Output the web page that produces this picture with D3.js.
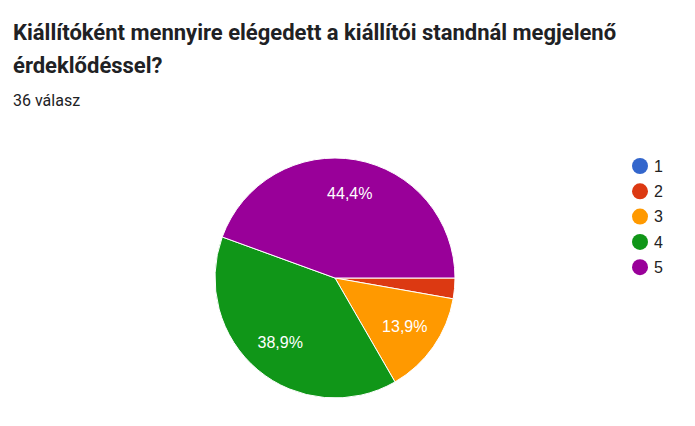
<!DOCTYPE html>
<html><head><meta charset="utf-8">
<script src="https://cdn.jsdelivr.net/npm/d3@7"></script>
<style>body{margin:0;background:#fff;}</style>
</head><body>
<svg id="c" width="695" height="426"></svg>
<script>
const categories = ["1","2","3","4","5"];
const counts = [0, 1, 5, 14, 16];
const colors = ["#3366cc","#dc3912","#ff9900","#109618","#990099"];
const titleLines = ["Kiállítóként mennyire elégedett a kiállítói standnál megjelenő","érdeklődéssel?"];
const subtitle = "36 válasz";

const svg = d3.select("#c");
svg.append("rect").attr("width",695).attr("height",426).attr("fill","#fff");
svg.selectAll("text.title").data(titleLines).join("text")
  .attr("x",13).attr("y",(d,i)=>40+i*33)
  .attr("font-family","Roboto").attr("font-weight","bold").attr("font-size",22)
  .attr("fill","#202124").text(d=>d);
svg.append("text").attr("x",13).attr("y",106).attr("font-family","Roboto")
  .attr("font-size",16).attr("fill","#202124").text(subtitle);

const data = categories.map((c,i)=>({cat:c,v:counts[i],color:colors[i]}));
const total = d3.sum(counts);
const cx=335, cy=278, r=120;
const pie = d3.pie().value(d=>d.v).sort(null).startAngle(Math.PI/2).endAngle(Math.PI/2+2*Math.PI);
const arcs = pie(data).filter(a=>a.data.v>0);
const arc = d3.arc().innerRadius(0).outerRadius(r);
const g = svg.append("g").attr("transform",`translate(${cx},${cy})`);
g.selectAll("path").data(arcs).join("path").attr("d",arc)
  .attr("fill",d=>d.data.color).attr("stroke","#fff").attr("stroke-width",1);
const labelArc = d3.arc().innerRadius(r*0.71).outerRadius(r*0.71);
const fmt = v => (Math.round(v/total*1000)/10).toFixed(1).replace(".",",")+"%";
g.selectAll("text").data(arcs.filter(a=>a.data.v/total>0.05)).join("text")
  .attr("transform",d=>`translate(${labelArc.centroid(d)})`)
  .attr("text-anchor","middle").attr("dy","0.3em")
  .attr("font-family","Liberation Sans, Arial").attr("font-size",16)
  .attr("fill","#fff").text(d=>fmt(d.data.v));

const leg = svg.append("g").selectAll("g").data(data).join("g")
  .attr("transform",(d,i)=>`translate(640,${166+i*25.3})`);
leg.append("circle").attr("r",8).attr("fill",d=>d.color);
leg.append("text").attr("x",14).attr("dy","0.36em").attr("font-family","Liberation Sans, Arial")
  .attr("font-size",16).attr("fill","#222").text(d=>d.cat);
</script>
</body></html>
